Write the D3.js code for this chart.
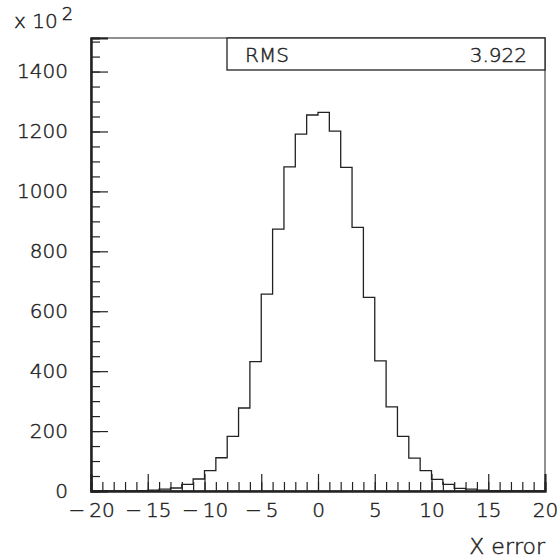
<!DOCTYPE html>
<html>
<head>
<meta charset="utf-8">
<script src="https://cdn.jsdelivr.net/npm/d3@7"></script>
<style>
  body { margin: 0; background: #fff; }
  text { font-family: "DejaVu Sans", sans-serif; font-weight: 200; fill: #222; stroke: #222; stroke-width: 0.45px; }
</style>
</head>
<body>
<div id="container"></div>
<script>
// histogram bin edges (low edge of each 1-unit bin) and contents (in units of 10^2)
let binLow = d3.range(-20, 20, 1);
let counts = [
  0, 0, 0, 0, 1, 3, 6, 10, 22, 40,
  68, 111, 182, 277, 432, 657, 874, 1082, 1191, 1255,
  1264, 1201, 1080, 880, 646, 434, 281, 182, 110, 68,
  39, 22, 9, 6, 3, 1, 0, 0, 0, 0
];
let xMajor = [-20, -15, -10, -5, 0, 5, 10, 15, 20];
let yMajor = [0, 200, 400, 600, 800, 1000, 1200, 1400];
let rmsLabel = "RMS";
let rmsValue = "3.922";

let W = 560, H = 560;
let padL = 91, padR = 545, padT = 38, padB = 491;

let viz = d3.select("#container")
  .append("svg")
    .attr("width", W)
    .attr("height", H);

let x = d3.scaleLinear().domain([-20, 20]).range([padL, padR]);
let y = d3.scaleLinear().domain([0, 1512]).range([padB, padT]);

// <------ frame ------>
viz.append("rect")
  .attr("x", padL).attr("y", padT)
  .attr("width", padR - padL).attr("height", padB - padT)
  .attr("fill", "none").attr("stroke", "#222").attr("stroke-width", 1);

// <------ histogram ------>
let pts = [[x(-20), y(0)]];
binLow.forEach(function(b, i){
  pts.push([x(b), y(counts[i])]);
  pts.push([x(b + 1), y(counts[i])]);
});
pts.push([x(20), y(0)]);

viz.append("path")
  .attr("d", d3.line()(pts))
  .attr("fill", "none")
  .attr("stroke", "#222")
  .attr("stroke-width", 1.3);

// <------ x axis ------>
let xMinorAxis = d3.axisBottom(x)
  .tickValues(d3.range(-20, 21, 1))
  .tickSize(-9).tickFormat("");
viz.append("g").attr("transform", "translate(0," + padB + ")").call(xMinorAxis);

let xAxis = d3.axisBottom(x)
  .tickValues(xMajor)
  .tickSize(-17).tickPadding(12)
  .tickFormat(function(d){ return d < 0 ? "\u2212\u2009" + Math.abs(d) : d; });
viz.append("g").attr("transform", "translate(0," + padB + ")").call(xAxis);

// <------ y axis ------>
let yMinorAxis = d3.axisLeft(y)
  .tickValues(d3.range(0, 1501, 50))
  .tickSize(-9).tickFormat("");
viz.append("g").attr("transform", "translate(" + padL + ",0)").call(yMinorAxis);

let yAxis = d3.axisLeft(y)
  .tickValues(yMajor)
  .tickSize(-17).tickPadding(23)
  .tickFormat(d3.format("d"));
viz.append("g").attr("transform", "translate(" + padL + ",0)").call(yAxis);

viz.selectAll(".domain").attr("stroke", "#222").attr("stroke-width", 2);
viz.selectAll(".tick line").attr("stroke", "#222").attr("stroke-width", 1.2);
viz.selectAll(".tick text")
  .style("font-size", "20px")
  .attr("fill", "#222");

// <------ titles ------>
viz.append("text")
  .attr("x", padR).attr("y", 554)
  .attr("text-anchor", "end")
  .style("font-size", "22px")
  .text("X error");

let mult = viz.append("text")
  .attr("x", 14).attr("y", 28)
  .style("font-size", "20px");
mult.append("tspan").text("x 10");
mult.append("tspan").attr("dy", -8).attr("dx", 4).style("font-size", "18px").text("2");

// <------ stats box ------>
viz.append("rect")
  .attr("x", 227).attr("y", padT)
  .attr("width", padR - 227).attr("height", 32)
  .attr("fill", "white").attr("stroke", "#222").attr("stroke-width", 1.3);

viz.append("text")
  .attr("x", 245).attr("y", 62)
  .style("font-size", "20px")
  .text(rmsLabel);

viz.append("text")
  .attr("x", 527).attr("y", 62)
  .attr("text-anchor", "end")
  .style("font-size", "20px")
  .text(rmsValue);
</script>
</body>
</html>
